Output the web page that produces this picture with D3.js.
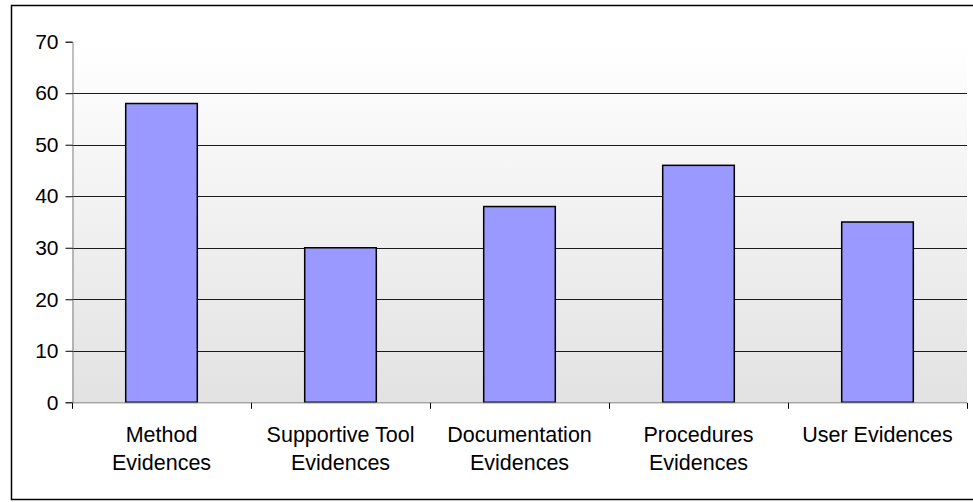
<!DOCTYPE html>
<html>
<head>
<meta charset="utf-8">
<script src="https://cdn.jsdelivr.net/npm/d3@7"></script>
<style>
  html, body { margin: 0; padding: 0; background: #fff; }
  svg { display: block; }
</style>
</head>
<body>
<svg id="chart" width="973" height="502"></svg>
<script>
// Evidence counts per category
const categories = ["Method Evidences", "Supportive Tool Evidences", "Documentation Evidences", "Procedures Evidences", "User Evidences"];
const counts = [58, 30, 38, 46, 35];
const yTicks = [0, 10, 20, 30, 40, 50, 60, 70];

const W = 973, H = 502;
const plot = { left: 72, right: 967, top: 41.7, bottom: 402.3 };
const font = "'Liberation Sans', Arial, Helvetica, sans-serif";

const svg = d3.select("#chart");

// Plot-area background: soft white-to-grey vertical gradient
const defs = svg.append("defs");
const grad = defs.append("linearGradient")
  .attr("id", "plotBg").attr("x1", 0).attr("y1", 0).attr("x2", 0).attr("y2", 1);
grad.append("stop").attr("offset", "0%").attr("stop-color", "#ffffff");
grad.append("stop").attr("offset", "100%").attr("stop-color", "#e2e2e2");

// Outer chart frame
svg.append("rect")
  .attr("x", 11.5).attr("y", 5.5)
  .attr("width", W + 10).attr("height", 494)
  .attr("fill", "#fff").attr("stroke", "#000").attr("stroke-width", 1.5);

const x = d3.scaleBand()
  .domain(categories)
  .range([plot.left, plot.right])
  .paddingInner(0).paddingOuter(0);

const y = d3.scaleLinear()
  .domain([0, 70])
  .range([plot.bottom, plot.top]);

svg.append("rect")
  .attr("x", plot.left).attr("y", plot.top)
  .attr("width", plot.right - plot.left).attr("height", plot.bottom - plot.top)
  .attr("fill", "url(#plotBg)");

// Horizontal gridlines
svg.append("g")
  .selectAll("line")
  .data(yTicks.filter(t => t > 0 && t < 70))
  .join("line")
  .attr("x1", plot.left).attr("x2", plot.right)
  .attr("y1", d => Math.round(y(d)) + 0.5).attr("y2", d => Math.round(y(d)) + 0.5)
  .attr("stroke", "#1a1a1a").attr("stroke-width", 1);

// Bars
const barW = x.bandwidth() * 0.4;
svg.append("g")
  .selectAll("rect")
  .data(categories.map((c, i) => ({ c, v: counts[i] })))
  .join("rect")
  .attr("x", d => x(d.c) + (x.bandwidth() - barW) / 2)
  .attr("y", d => y(d.v))
  .attr("width", barW)
  .attr("height", d => y(0) - y(d.v))
  .attr("fill", "#9999ff")
  .attr("stroke", "#000")
  .attr("stroke-width", 1.5);

// Y axis
const yAxis = d3.axisLeft(y).tickValues(yTicks).tickSize(7).tickPadding(7);
const gy = svg.append("g")
  .attr("transform", `translate(${plot.left + 0.5},0)`)
  .call(yAxis);
gy.select(".domain").attr("stroke", "#808080");
gy.selectAll(".tick line").attr("stroke", "#000");
gy.selectAll(".tick text")
  .attr("font-family", font).attr("font-size", 21).attr("fill", "#000");

// X axis with ticks at category boundaries
const gx = svg.append("g")
  .attr("transform", `translate(0,${plot.bottom + 0.5})`);
gx.append("line")
  .attr("x1", plot.left).attr("x2", plot.right)
  .attr("stroke", "#808080");
const bounds = categories.map(c => x(c)).concat([plot.right]);
gx.selectAll("line.tk")
  .data(bounds)
  .join("line").attr("class", "tk")
  .attr("x1", d => Math.round(d) + 0.5).attr("x2", d => Math.round(d) + 0.5)
  .attr("y1", 0).attr("y2", 6)
  .attr("stroke", "#000");

// Category labels, wrapped onto two lines when too wide
const maxLabelW = 165;
const labels = svg.append("g")
  .attr("font-family", font).attr("font-size", 21.5).attr("fill", "#000")
  .attr("text-anchor", "middle");

categories.forEach(c => {
  const cx = x(c) + x.bandwidth() / 2;
  const t = labels.append("text").attr("x", cx).attr("y", 442);
  t.text(c);
  let lines = [c];
  if (t.node().getComputedTextLength() > maxLabelW) {
    const words = c.split(" ");
    lines = [words.slice(0, -1).join(" "), words[words.length - 1]];
  }
  t.text(null);
  lines.forEach((ln, i) => {
    t.append("tspan").attr("x", cx).attr("y", 442 + i * 28).text(ln);
  });
});
</script>
</body>
</html>
